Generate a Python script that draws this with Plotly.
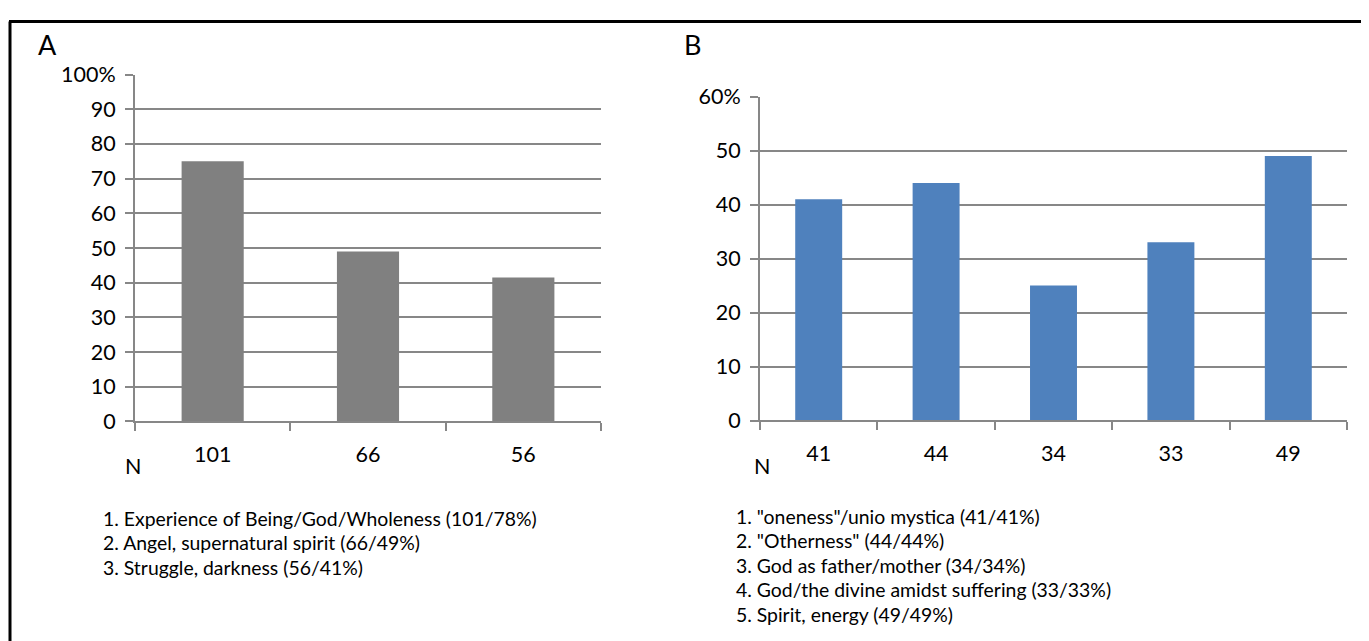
import plotly.graph_objects as go

# The page is photographed with a small offset and a slight vertical scale;
# positions below are given in picture pixels and mapped into the figure.
W, H = 1361, 646
OX = 8          # horizontal page offset
OY, SY = 21.4, 0.96  # vertical offset and scale of the photograph

# Data
a_n_labels = ["101", "66", "56"]
a_values = [75, 49, 41.5]
a_legend = [
    "1. Experience of Being/God/Wholeness (101/78%)",
    "2. Angel, supernatural spirit (66/49%)",
    "3. Struggle, darkness (56/41%)",
]
a_yticks = [0, 10, 20, 30, 40, 50, 60, 70, 80, 90, 100]
a_yticktext = ["0", "10", "20", "30", "40", "50", "60", "70", "80", "90", "100%"]

b_n_labels = ["41", "44", "34", "33", "49"]
b_values = [41, 44, 25, 33, 49]
b_legend = [
    '1. "oneness"/unio mystica (41/41%)',
    '2. "Otherness" (44/44%)',
    "3. God as father/mother (34/34%)",
    "4. God/the divine amidst suffering (33/33%)",
    "5. Spirit, energy (49/49%)",
]
b_yticks = [0, 10, 20, 30, 40, 50, 60]
b_yticktext = ["0", "10", "20", "30", "40", "50", "60%"]

FONT = "Lato"
GRID = "#878787"


def px(x):
    return (x - OX) / W


def py(y):
    return min(0.999, 1 - ((y - OY) / SY) / H)


fig = go.Figure()
fig.add_trace(go.Bar(x=a_n_labels, y=a_values, marker=dict(color="#808080", line=dict(width=0)),
                     xaxis="x", yaxis="y", showlegend=False, hoverinfo="skip"))
fig.add_trace(go.Bar(x=b_n_labels, y=b_values, marker=dict(color="#4F81BD", line=dict(width=0)),
                     xaxis="x2", yaxis="y2", showlegend=False, hoverinfo="skip"))

axis_common_y = dict(showgrid=True, gridcolor=GRID, gridwidth=2, showline=True, linecolor=GRID,
                     linewidth=2, ticks="outside", ticklen=8, tickcolor=GRID, tickwidth=2,
                     zeroline=False, tickfont=dict(family=FONT, size=21.5, color="#000"),
                     fixedrange=True)
axis_common_x = dict(type="category", showgrid=False, showline=True, linecolor=GRID, linewidth=2,
                     ticks="outside", ticklen=8, tickcolor=GRID, tickwidth=2, tickson="boundaries",
                     tickfont=dict(family=FONT, size=21.5, color="#000"), ticklabelstandoff=13,
                     fixedrange=True)

fig.update_layout(
    width=W, height=H,
    margin=dict(l=0, r=0, t=0, b=0),
    paper_bgcolor="white", plot_bgcolor="white",
    bargap=0.6,
    xaxis=dict(domain=[px(135), px(601)], anchor="y", **axis_common_x),
    yaxis=dict(domain=[py(422), py(75)], anchor="x", range=[0, 100], tickvals=a_yticks,
               ticktext=a_yticktext, ticklabelstandoff=5, **axis_common_y),
    xaxis2=dict(domain=[px(760), px(1347)], anchor="y2", **axis_common_x),
    yaxis2=dict(domain=[py(421), py(97)], anchor="x2", range=[0, 60], tickvals=b_yticks,
                ticktext=b_yticktext, ticklabelstandoff=5, **axis_common_y),
)

ann = []
ann.append(dict(text="A", x=px(47), y=py(45), xref="paper", yref="paper", showarrow=False,
                font=dict(family=FONT, size=27, color="#000"), xanchor="center", yanchor="middle"))
ann.append(dict(text="B", x=px(692), y=py(45), xref="paper", yref="paper", showarrow=False,
                font=dict(family=FONT, size=27, color="#000"), xanchor="center", yanchor="middle"))
ann.append(dict(text="N", x=px(133), y=py(467), xref="paper", yref="paper", showarrow=False,
                font=dict(family=FONT, size=21.5, color="#000"), xanchor="center", yanchor="middle"))
ann.append(dict(text="N", x=px(762), y=py(467), xref="paper", yref="paper", showarrow=False,
                font=dict(family=FONT, size=21.5, color="#000"), xanchor="center", yanchor="middle"))
for i, t in enumerate(a_legend):
    ann.append(dict(text=t, x=px(101), y=py(519 + i * 24.5), xref="paper", yref="paper",
                    showarrow=False, font=dict(family=FONT, size=19.4, color="#000"),
                    xanchor="left", yanchor="middle"))
for i, t in enumerate(b_legend):
    ann.append(dict(text=t, x=px(734), y=py(517 + i * 24.5), xref="paper", yref="paper",
                    showarrow=False, font=dict(family=FONT, size=19.4, color="#000"),
                    xanchor="left", yanchor="middle"))
fig.update_layout(annotations=ann)

# Outer frame (left and top edges)
fig.add_shape(type="line", xref="paper", yref="paper", x0=px(10), x1=px(10), y0=py(12), y1=0,
              line=dict(color="#000", width=3))
fig.add_shape(type="line", xref="paper", yref="paper", x0=px(9), x1=1, y0=py(12), y1=py(12),
              line=dict(color="#000", width=3))

fig.write_html("out.html")
